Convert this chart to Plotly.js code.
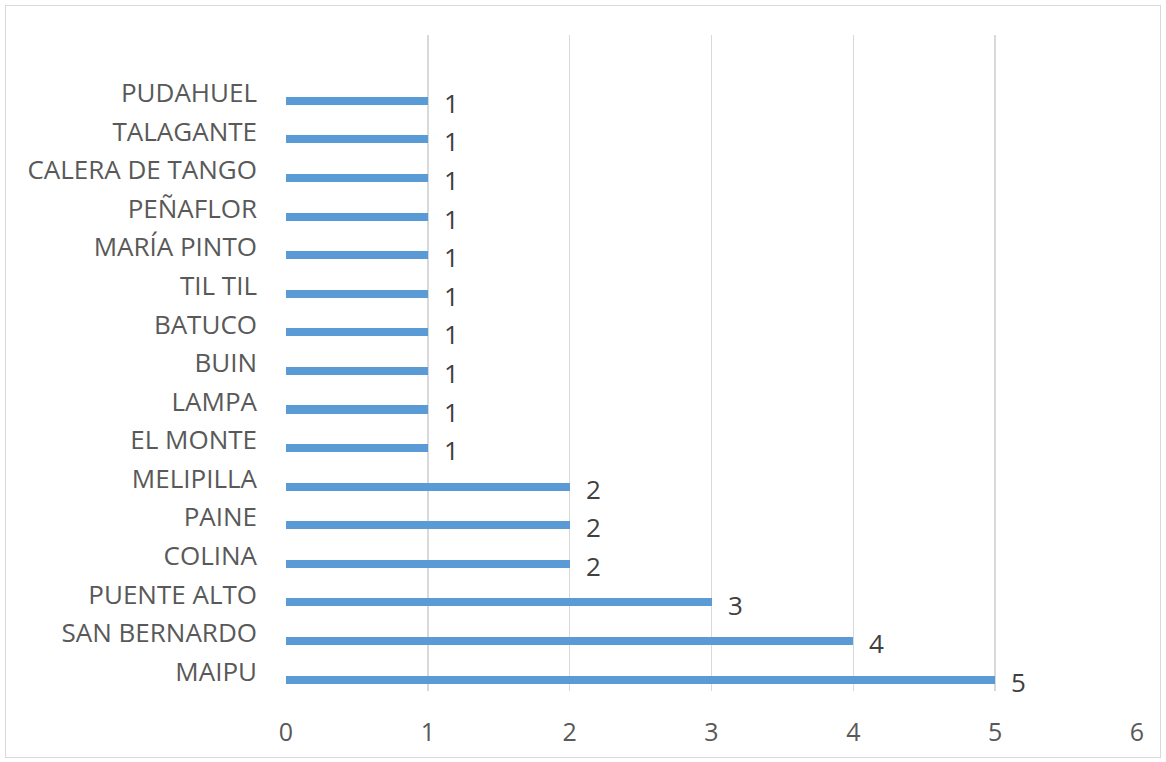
<!DOCTYPE html>
<html>
<head>
<meta charset="utf-8">
<script src="https://cdn.plot.ly/plotly-3.0.1.min.js"></script>
<style>
html,body{margin:0;padding:0;background:#fff;}
#wrap{position:relative;width:1166px;height:762px;}
#chart{width:1166px;height:762px;}
#frame{position:absolute;left:5px;top:5px;width:1154px;height:751px;border:1px solid #d9d9d9;pointer-events:none;}
</style>
</head>
<body>
<div id="wrap"><div id="chart"></div><div id="frame"></div></div>
<script>
const categories = ["MAIPU","SAN BERNARDO","PUENTE ALTO","COLINA","PAINE","MELIPILLA","EL MONTE","LAMPA","BUIN","BATUCO","TIL TIL","MARÍA PINTO","PEÑAFLOR","CALERA DE TANGO","TALAGANTE","PUDAHUEL"];
const values = [5,4,3,2,2,2,1,1,1,1,1,1,1,1,1,1];
const xTicks = [0,1,2,3,4,5,6];

const font = "Open Sans, Liberation Sans, sans-serif";
const textColor = "#595959";

const trace = {
  type: "bar",
  orientation: "h",
  y: categories,
  x: values,
  marker: {color: "#5b9bd5"},
  width: 0.21,
  offset: -0.31,
  hoverinfo: "x+y"
};

const annotations = categories.map((c, i) => ({
  x: values[i], y: c, xref: "x", yref: "y",
  text: String(values[i]), showarrow: false,
  xanchor: "left", yanchor: "middle",
  xshift: 14, yshift: -10,
  font: {family: font, size: 26, color: "#404040"}
}));

const layout = {
  width: 1166, height: 762,
  margin: {l: 286, r: 29, t: 35, b: 71},
  paper_bgcolor: "#fff", plot_bgcolor: "#fff",
  showlegend: false,
  bargap: 0,
  xaxis: {
    range: [0, 6], tickvals: xTicks, ticktext: xTicks.map(String),
    showgrid: true, gridcolor: "#d9d9d9", gridwidth: 1.5,
    zeroline: false, showline: false, ticks: "",
    ticklabelstandoff: 24,
    tickfont: {family: font, size: 25, color: textColor},
    fixedrange: true
  },
  yaxis: {
    type: "category", categoryorder: "array", categoryarray: categories,
    range: [-0.5, 16.5],
    showgrid: false, zeroline: false, showline: false, ticks: "",
    ticklabelstandoff: 28,
    tickfont: {family: font, size: 26, color: textColor},
    fixedrange: true
  },
  annotations: annotations
};

Plotly.newPlot("chart", [trace], layout, {displayModeBar: false, staticPlot: true});
</script>
</body>
</html>
